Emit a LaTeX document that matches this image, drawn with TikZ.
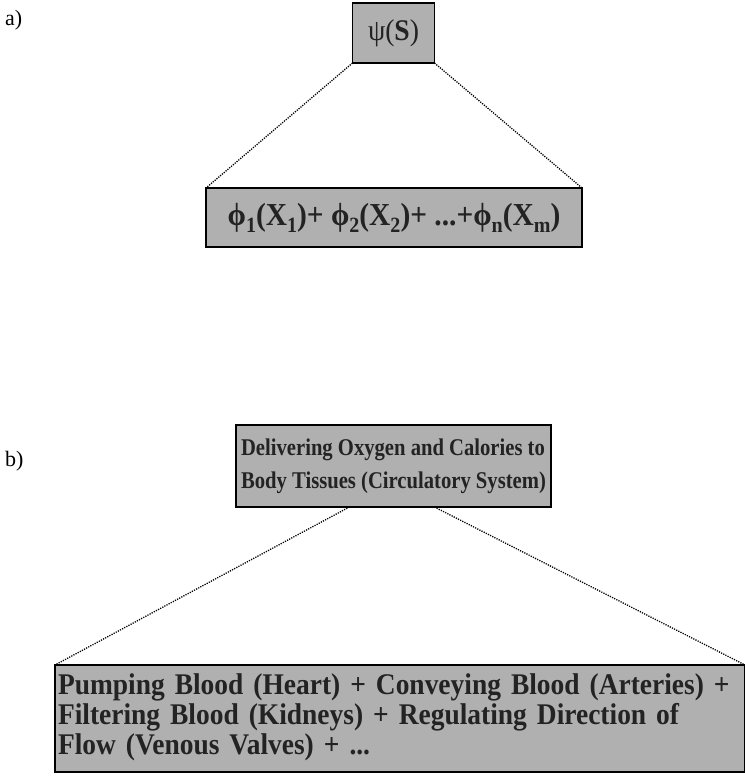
\documentclass[tikz,border=0pt]{standalone}
\usepackage{fontspec}
\setmainfont{Liberation Serif}
\newfontfamily\condA[FakeStretch=0.86]{Liberation Serif}
\newfontfamily\condB[FakeStretch=0.92]{Liberation Serif}
\newfontfamily\condC[FakeStretch=0.915]{Liberation Serif}
\usetikzlibrary{calc}
\newcommand{\sbs}[1]{\raisebox{-0.22em}{\scalebox{0.68}{#1}}}
\definecolor{boxgray}{RGB}{176,176,176}
\definecolor{inkgray}{RGB}{35,35,35}
\tikzset{
  gbox/.style={draw=black, line width=1.1pt, fill=boxgray, text=inkgray, inner sep=0pt, outer sep=0pt},
  dotline/.style={line width=1.3pt, dash pattern=on 1.2pt off 1.2pt},
  lab/.style={anchor=west, inner sep=0pt, font=\fontsize{22}{22}\selectfont}
}
\begin{document}
\begin{tikzpicture}[x=1pt,y=-1pt]
\useasboundingbox (0,0) rectangle (744,781);
% a)
\node[lab] (la) at (5,20) {a)};
\node[gbox, minimum width=82pt, minimum height=60pt, font=\fontsize{30}{30}\selectfont\condB] (psi) at (393.5,33) {ψ(\textbf{S})};
\node[gbox, minimum width=376pt, minimum height=59pt, font=\fontsize{32}{32}\selectfont\condB\bfseries] (sum) at (394,217.5)
  {ϕ\sbs{1}(X\sbs{1})+ ϕ\sbs{2}(X\sbs{2})+ ...+ϕ\sbs{n}(X\sbs{m})};
\draw[dotline] (psi.south west) -- (sum.north west);
\draw[dotline] (psi.south east) -- (sum.north east);
% b)
\node[lab] (lb) at (5,461) {b)};
\node[gbox, minimum width=315pt, minimum height=82pt, font=\fontsize{24}{33}\selectfont\condA\bfseries, align=left] (deliv) at (393.5,466)
  {Delivering Oxygen and Calories to\\Body Tissues (Circulatory System)};
\node[gbox, minimum width=690pt, minimum height=107pt, anchor=north west, text width=684pt, align=left,
  font=\fontsize{30}{30}\selectfont\condC\bfseries] (pump) at (55,665)
  {\vspace*{-12pt}\\Pumping Blood (Heart) + Conveying Blood (Arteries) +\\Filtering Blood (Kidneys) + Regulating Direction of\\Flow (Venous Valves) + ...};
\coordinate (dl) at ($(deliv.south west)!0.36!(deliv.south east)$);
\coordinate (dr) at ($(deliv.south west)!0.63!(deliv.south east)$);
\draw[dotline] (dl) -- (pump.north west);
\draw[dotline] (dr) -- (pump.north east);
\end{tikzpicture}
\end{document}
